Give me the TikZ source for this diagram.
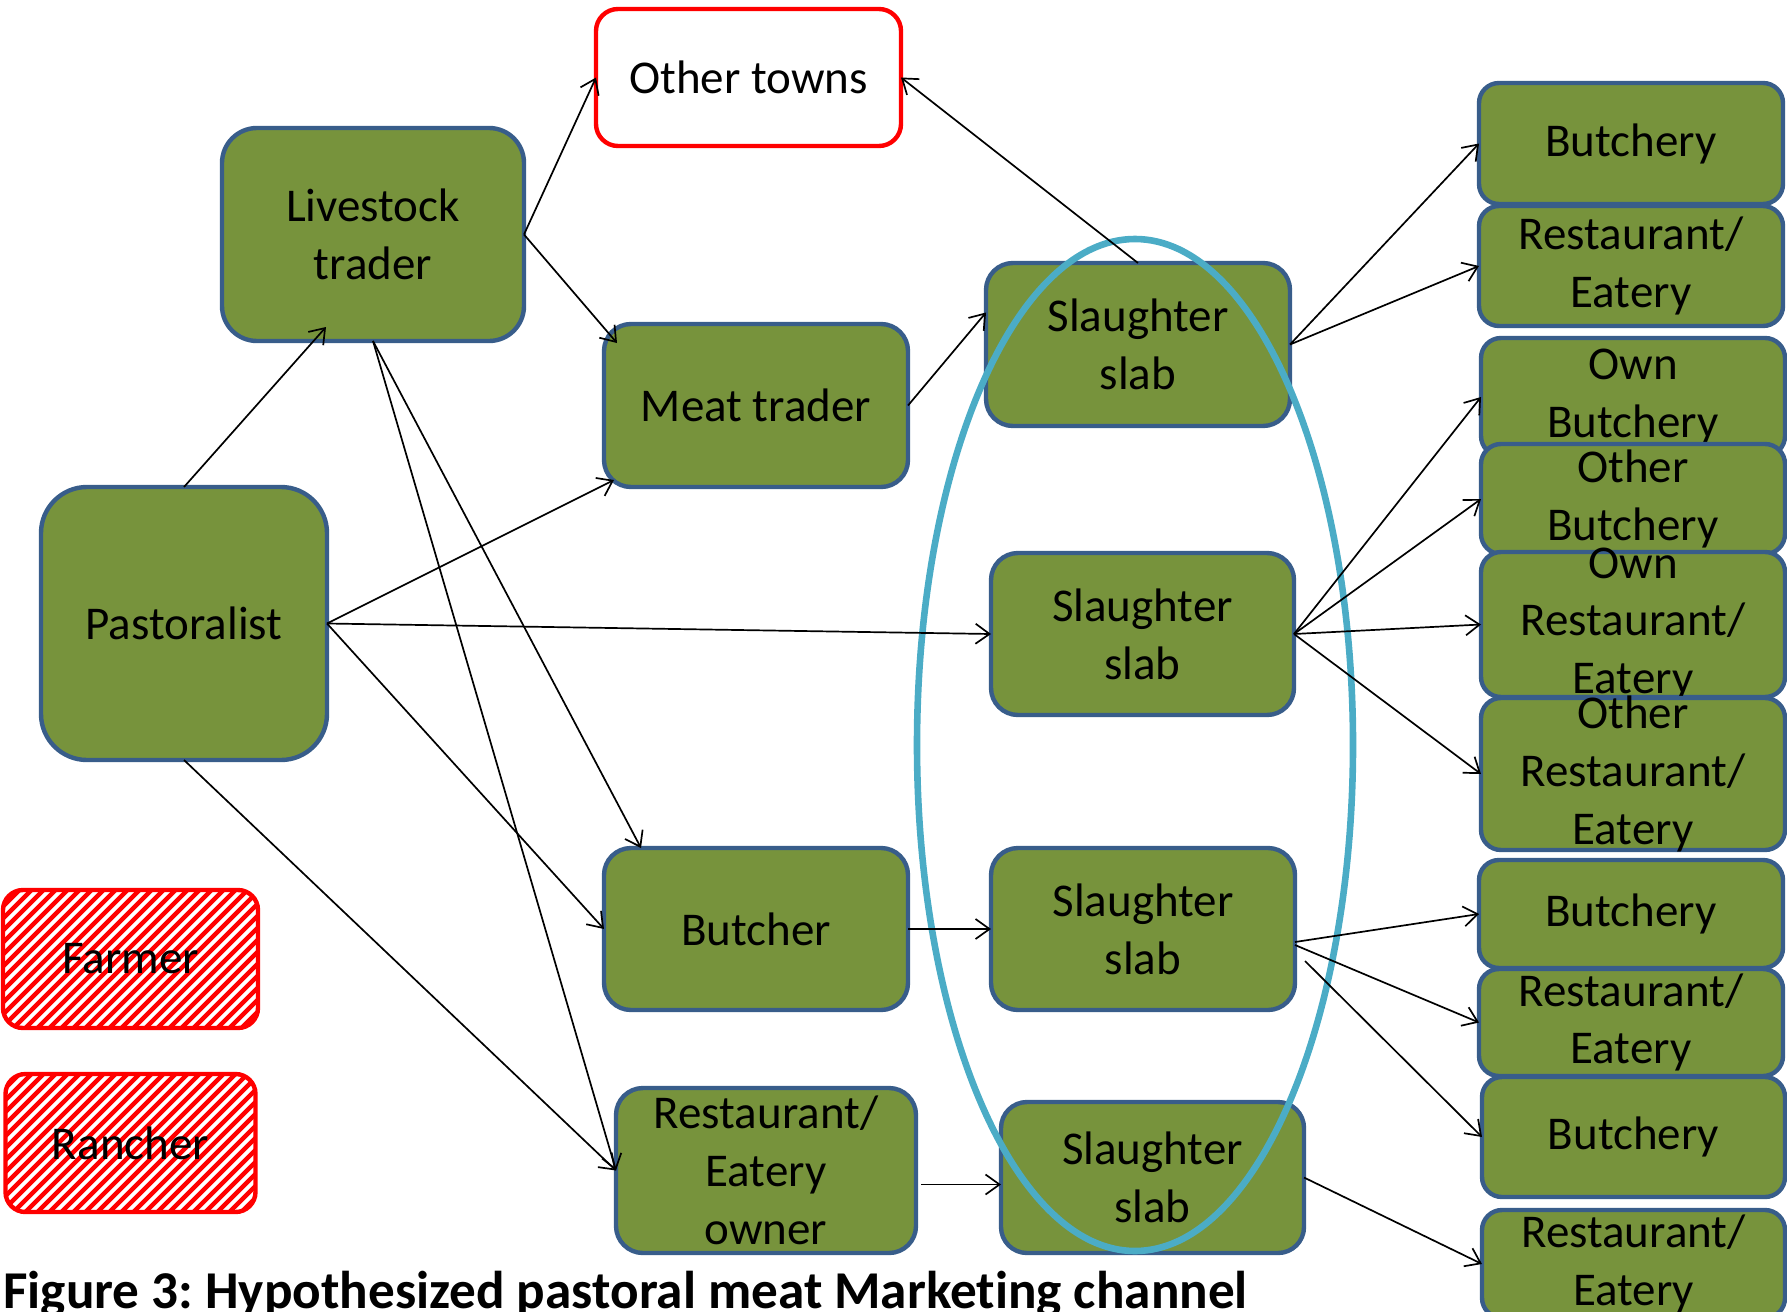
\documentclass[tikz,border=0pt]{standalone}
\usepackage{fontspec}
\setmainfont[Ligatures=NoCommon]{Carlito}
\usetikzlibrary{arrows.meta,calc}
\definecolor{bgreen}{HTML}{77933C}
\definecolor{bblue}{HTML}{385D8A}
\definecolor{ellcol}{HTML}{4BACC6}
\newcommand{\boxfont}{\fontsize{23.5}{28.85}\selectfont}
\frenchspacing
\tikzset{
  box/.style={draw=bblue, fill=bgreen, line width=2.2pt, inner sep=0pt, outer sep=0pt, rectangle},
  redbox/.style={draw=red, fill=white, line width=2.2pt, inner sep=0pt, outer sep=0pt, rectangle},
  hatchbox/.style={draw=red, fill=white, line width=2.2pt, inner sep=0pt, outer sep=0pt, rectangle,
    path picture={\foreach \k in {-24,...,24}
      \draw[red, line width=2.2pt] ($(path picture bounding box.center)+(\k*12-160,160)$) -- ++(320,-320);}},
  txt/.style={label={[font=\boxfont, align=center, inner sep=0pt, text=black]center:{#1}}},
  conn/.style={line width=0.85pt, -{Straight Barb[length=7pt,width=10pt]}},
}
\begin{document}
\begin{tikzpicture}[x=0.5pt,y=-0.5pt]
\useasboundingbox (0,0) rectangle (1787,1311);

% left and middle nodes
\node[redbox, minimum width=152.5pt, minimum height=68.5pt, rounded corners=11pt, txt={Other towns}] (ot) at (748.5,77.5) {};
\node[box, minimum width=151pt, minimum height=106.5pt, rounded corners=17.5pt, txt={Livestock\\trader}] (lt) at (373,234.5) {};
\node[box, minimum width=152pt, minimum height=81.5pt, rounded corners=13.5pt, txt={Meat trader}] (mt) at (756,405.5) {};
\node[box, minimum width=143pt, minimum height=136.5pt, rounded corners=23pt, txt={Pastoralist}] (past) at (184,623.5) {};
\node[box, minimum width=152pt, minimum height=81pt, rounded corners=13.5pt, txt={Butcher}] (butcher) at (756,929) {};
\node[box, minimum width=150pt, minimum height=82.5pt, rounded corners=13.5pt, txt={Restaurant/\\Eatery\\owner}] (reo) at (766,1170.5) {};

\node[hatchbox, minimum width=127.5pt, minimum height=69pt, rounded corners=10pt, txt={Farmer}] (farmer) at (130.5,959) {};
\node[hatchbox, minimum width=125pt, minimum height=69pt, rounded corners=10pt, txt={Rancher}] (rancher) at (130.5,1143) {};

% slaughter slabs
\node[box, minimum width=152pt, minimum height=81.5pt, rounded corners=13.5pt, txt={Slaughter\\slab}] (s1) at (1138,344.5) {};
\node[box, minimum width=151.5pt, minimum height=81pt, rounded corners=13.5pt, txt={Slaughter\\slab}] (s2) at (1142.5,634) {};
\node[box, minimum width=152pt, minimum height=81pt, rounded corners=13.5pt, txt={Slaughter\\slab}] (s3) at (1143,929) {};
\node[box, minimum width=151.5pt, minimum height=75.5pt, rounded corners=13pt, txt={Slaughter\\slab}] (s4) at (1152.5,1177.5) {};

% right column
\node[box, minimum width=152pt, minimum height=60.5pt, rounded corners=10pt, txt={Butchery}] (b1) at (1631,143.5) {};
\node[box, minimum width=152pt, minimum height=60pt, rounded corners=10pt, txt={Restaurant/\\Eatery}] (r1) at (1631,266) {};
\node[box, minimum width=152pt, minimum height=59pt, rounded corners=10pt, txt={Own\\Butchery}] (ob) at (1633,397) {};
\node[box, minimum width=152pt, minimum height=55pt, rounded corners=10pt, txt={Other\\Butchery}] (xb) at (1633,499) {};
\node[box, minimum width=152pt, minimum height=72.5pt, rounded corners=10pt, txt={Own\\Restaurant/\\Eatery}] (orr) at (1633,624.5) {};
\node[box, minimum width=152pt, minimum height=76pt, rounded corners=10pt, txt={Other\\Restaurant/\\Eatery}] (xr) at (1633,774) {};
\node[box, minimum width=152pt, minimum height=54pt, rounded corners=10pt, txt={Butchery}] (b3) at (1631,914) {};
\node[box, minimum width=152pt, minimum height=53.5pt, rounded corners=10pt, txt={Restaurant/\\Eatery}] (r3) at (1631,1022.5) {};
\node[box, minimum width=151.5pt, minimum height=60pt, rounded corners=10pt, txt={Butchery}] (b4) at (1633.5,1137) {};
\node[box, minimum width=151.5pt, minimum height=54pt, rounded corners=10pt, txt={Restaurant/\\Eatery}] (r4) at (1633.5,1264) {};

% ellipse grouping the slaughter slabs
\draw[ellcol, line width=3.3pt] (1135,745) ellipse [x radius=109pt, y radius=253pt];

% connectors
\draw[conn] (past.north) -- ($(lt.south)+(-47,-14)$);
\draw[conn] (lt.east) -- (ot.west);
\draw[conn] (lt.east) -- ($(mt.north west)+(13,19)$);
\draw[conn] (lt.south) -- ($(butcher.north west)+(37,0)$);
\draw[conn] (lt.south) -- (reo.west);
\draw[conn] (past.east) -- ($(mt.south west)+(10,-7)$);
\draw[conn] (past.east) -- (s2.west);
\draw[conn] (past.east) -- (butcher.west);
\draw[conn] (past.south) -- (reo.west);
\draw[conn] (mt.east) -- ($(s1.west)+(0,-32)$);
\draw[conn] (s1.north) -- (ot.east);
\draw[conn] (s1.east) -- (b1.west);
\draw[conn] (s1.east) -- (r1.west);
\draw[conn] (s2.east) -- (ob.west);
\draw[conn] (s2.east) -- (xb.west);
\draw[conn] (s2.east) -- (orr.west);
\draw[conn] (s2.east) -- (xr.west);
\draw[conn] (butcher.east) -- (s3.west);
\draw[conn] ($(s3.east)+(0,13)$) -- (b3.west);
\draw[conn] ($(s3.east)+(0,16)$) -- (r3.west);
\draw[conn] ($(s3.east)+(10,32)$) -- (b4.west);
\draw[conn] ($(reo.east)+(5,14)$) -- ($(s4.west)+(0,7)$);
\draw[conn] (s4.east) -- (r4.west);

% caption
\node[anchor=base west, inner sep=0pt, font=\bfseries\fontsize{26.6}{32}\selectfont] (cap) at (3,1308) {Figure 3: Hypothesized pastoral meat Marketing channel};
\end{tikzpicture}
\end{document}
